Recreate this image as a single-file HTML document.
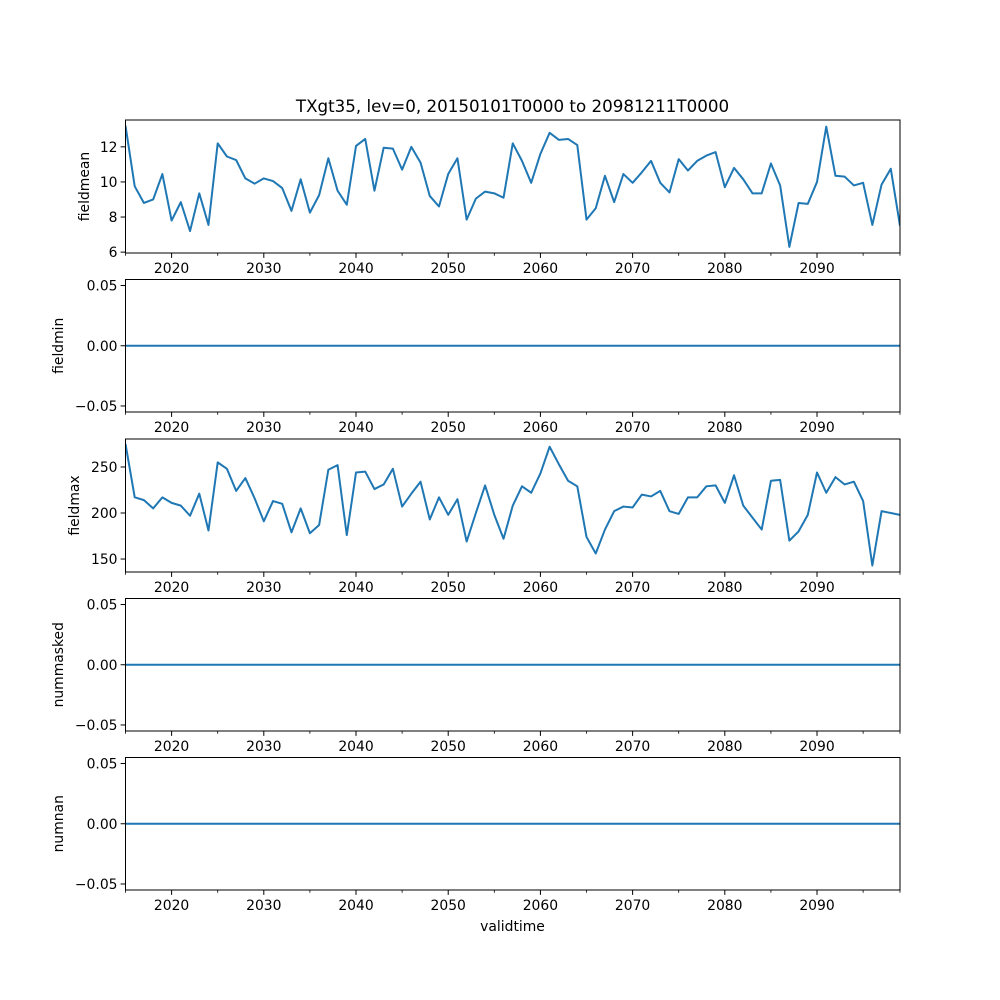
<!DOCTYPE html>
<html><head><meta charset="utf-8"><style>
body{margin:0;background:#fff}
svg{display:block;font-family:"DejaVu Sans","Liberation Sans",sans-serif}
</style></head><body>
<svg id="chart" width="1000" height="1000" viewBox="0 0 1000 1000" xmlns="http://www.w3.org/2000/svg">
<rect width="1000" height="1000" fill="#fff"/>
<text x="512.5" y="112" text-anchor="middle" font-size="16.7">TXgt35, lev=0, 20150101T0000 to 20981211T0000</text>
<text x="512.5" y="931" text-anchor="middle" font-size="13.9">validtime</text>
</svg>
<script>
const years = [];
for (let y = 2015; y <= 2099; y++) years.push(y);
const fieldmean = [13.2,9.75,8.8,9.0,10.45,7.8,8.85,7.2,9.35,7.55,12.2,11.45,11.25,10.2,9.9,10.2,10.05,9.65,8.35,10.15,8.25,9.25,11.35,9.5,8.7,12.05,12.45,9.5,11.95,11.9,10.7,12.0,11.1,9.2,8.6,10.45,11.35,7.85,9.05,9.45,9.35,9.1,12.2,11.2,9.95,11.6,12.8,12.4,12.45,12.1,7.85,8.5,10.35,8.85,10.45,9.95,10.55,11.2,9.95,9.4,11.3,10.65,11.2,11.5,11.7,9.7,10.8,10.15,9.35,9.35,11.05,9.8,6.3,8.8,8.75,10.0,13.15,10.35,10.3,9.8,9.95,7.55,9.85,10.75,7.5];
const fieldmin = years.map(() => 0);
const fieldmax = [275,217,214,205,217,211,208,197,221,181,255,248,224,238,216,191,213,210,179,205,178,187,247,252,176,244,245,226,231,248,207,221,234,193,217,198,215,169,200,230,198,172,208,229,222,243,272,253,235,229,174,156,182,202,207,206,220,218,224,202,199,217,217,229,230,211,241,208,195,182,235,236,170,180,198,244,222,239,231,234,213,143,202,200,198];
const nummasked = years.map(() => 0);
const numnan = years.map(() => 0);
const xTicks = [2020,2030,2040,2050,2060,2070,2080,2090];
const xMinor = [2025,2035,2045,2055,2065,2075,2085,2095];
const zeroTicks = [0.05,0,-0.05];
const zeroTickLabels = ["0.05","0.00","\u22120.05"];

const NS = "http://www.w3.org/2000/svg";
const svg = document.getElementById('chart');
const L = 125.5, R = 900;
const xMin = 2015, xMax = 2099;
const xs = v => L + (v - xMin) / (xMax - xMin) * (R - L);
function mk(tag, attrs, parent) {
  const e = document.createElementNS(NS, tag);
  for (const k in attrs) e.setAttribute(k, attrs[k]);
  (parent || svg).appendChild(e);
  return e;
}
const panels = [
  {name:'fieldmean', data:fieldmean, top:120, bot:253, ymin:5.95, ymax:13.53, ticks:[6,8,10,12], labels:["6","8","10","12"], lx:89},
  {name:'fieldmin', data:fieldmin, top:279.5, bot:412, ymin:-0.055, ymax:0.055, ticks:zeroTicks, labels:zeroTickLabels, lx:63},
  {name:'fieldmax', data:fieldmax, top:439, bot:572, ymin:135.9, ymax:280.4, ticks:[150,200,250], labels:["150","200","250"], lx:79},
  {name:'nummasked', data:nummasked, top:598.5, bot:731, ymin:-0.055, ymax:0.055, ticks:zeroTicks, labels:zeroTickLabels, lx:63},
  {name:'numnan', data:numnan, top:757.5, bot:890, ymin:-0.055, ymax:0.055, ticks:zeroTicks, labels:zeroTickLabels, lx:63}
];
panels.forEach(p => {
  const g = mk('g', {});
  
  
  const ys = v => p.bot - (v - p.ymin) / (p.ymax - p.ymin) * (p.bot - p.top);
  const pts = p.data.map((v, i) => xs(years[i]).toFixed(2) + ',' + ys(v).toFixed(2)).join(' ');
  const clip = mk('clipPath', {id: 'c-' + p.name}, g);
  mk('rect', {x: L, y: p.top, width: R - L, height: p.bot - p.top}, clip);
  const line = mk('polyline', {points: pts, fill: 'none', stroke: '#1f77b4', 'stroke-width': 2, 'stroke-linejoin': 'round', 'clip-path': 'url(#c-' + p.name + ')'}, g);
  
  
  const frame = mk('rect', {x: L, y: p.top, width: R - L, height: p.bot - p.top, fill: 'none', stroke: '#000', 'stroke-width': 1}, g);
  
  
  p.ticks.forEach((t, i) => {
    const y = ys(t);
    mk('line', {x1: L - 4.9, x2: L, y1: y, y2: y, stroke: '#000', 'stroke-width': 1}, g);
    const tx = mk('text', {x: L - 8, y: y + 5, 'text-anchor': 'end', 'font-size': 13.9}, g);
    tx.textContent = p.labels[i];
    
    
  });
  xTicks.forEach(t => {
    const x = xs(t);
    mk('line', {x1: x, x2: x, y1: p.bot, y2: p.bot + 4.9, stroke: '#000', 'stroke-width': 1}, g);
    const tx = mk('text', {x: x, y: p.bot + 20, 'text-anchor': 'middle', 'font-size': 13.9}, g);
    tx.textContent = String(t);
    
    
  });
  xMinor.concat([2015, 2099]).forEach(t => {
    const x = xs(t);
    mk('line', {x1: x, x2: x, y1: p.bot, y2: p.bot + 2.8, stroke: '#000', 'stroke-width': 0.8}, g);
  });
  const cy = (p.top + p.bot) / 2;
  const yl = mk('text', {x: p.lx, y: cy, 'text-anchor': 'middle', 'font-size': 13.9, transform: 'rotate(-90 ' + p.lx + ' ' + cy + ')'}, g);
  yl.textContent = p.name;
  
  
});
</script>
</body></html>
